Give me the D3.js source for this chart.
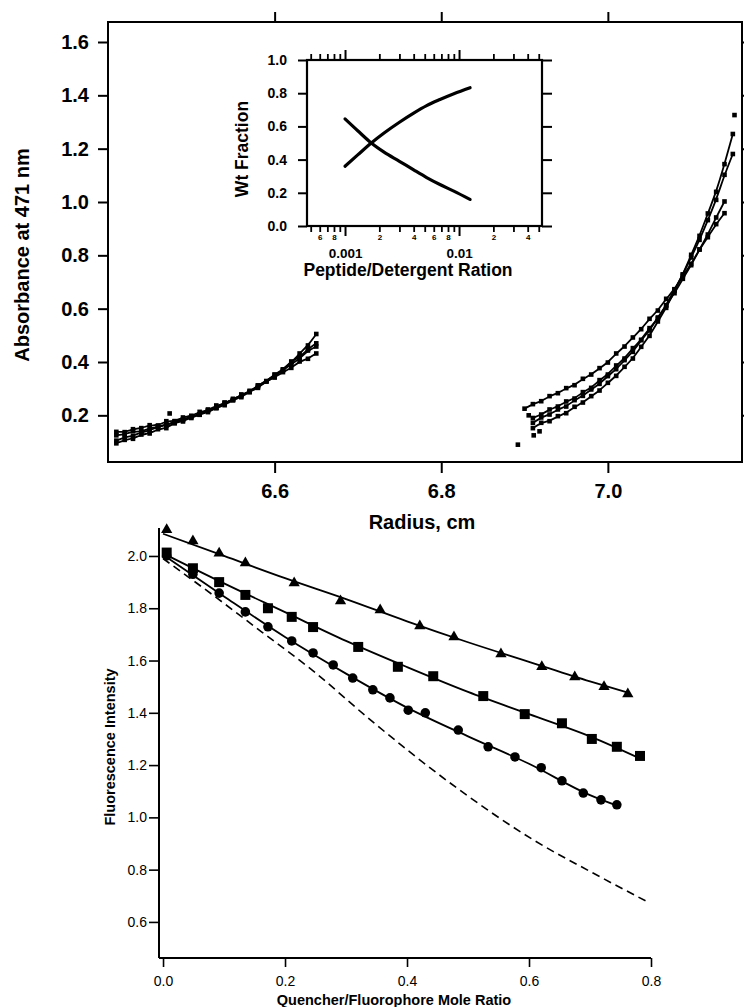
<!DOCTYPE html>
<html>
<head>
<meta charset="utf-8">
<script src="https://cdnjs.cloudflare.com/ajax/libs/d3/7.8.5/d3.min.js"></script>
<style>
body { margin: 0; background: #fff; }
svg { display: block; font-family: "Liberation Sans", Arial, Helvetica, sans-serif; }
</style>
</head>
<body>
<svg id="chart" width="744" height="1007"></svg>
<script>
// ---- top panel: absorbance vs radius ----
var absTicks = [0.2, 0.4, 0.6, 0.8, 1.0, 1.2, 1.4, 1.6];
var radTicks = [6.6, 6.8, 7.0];

var leftRadius = [6.41, 6.42, 6.43, 6.44, 6.45, 6.46, 6.47, 6.48, 6.49, 6.50, 6.51, 6.52, 6.53,
                  6.54, 6.55, 6.56, 6.57, 6.58, 6.59, 6.60, 6.61, 6.62, 6.63, 6.64, 6.65];
var leftA = [0.125, 0.128, 0.14, 0.138, 0.152, 0.155, 0.168, 0.17, 0.183, 0.19, 0.203, 0.212, 0.228,
             0.238, 0.257, 0.268, 0.288, 0.303, 0.328, 0.343, 0.372, 0.398, 0.432, 0.462, 0.505];
var leftB = [0.105, 0.118, 0.122, 0.137, 0.143, 0.157, 0.162, 0.178, 0.183, 0.197, 0.203, 0.222, 0.228,
             0.247, 0.258, 0.277, 0.288, 0.312, 0.328, 0.352, 0.368, 0.392, 0.412, 0.443, 0.458];
var leftC = [0.138, 0.137, 0.148, 0.152, 0.163, 0.162, 0.178, 0.178, 0.192, 0.198, 0.213, 0.218, 0.237,
             0.243, 0.262, 0.272, 0.292, 0.307, 0.327, 0.342, 0.362, 0.378, 0.402, 0.412, 0.432];
var leftD = [0.095, 0.108, 0.112, 0.128, 0.132, 0.148, 0.152, 0.172, 0.177, 0.193, 0.202, 0.218, 0.227,
             0.248, 0.257, 0.278, 0.287, 0.312, 0.328, 0.353, 0.372, 0.402, 0.418, 0.448, 0.47];

var rightRadius = [6.90, 6.91, 6.92, 6.93, 6.94, 6.95, 6.96, 6.97, 6.98, 6.99, 7.00, 7.01, 7.02,
                   7.03, 7.04, 7.05, 7.06, 7.07, 7.08, 7.09, 7.10, 7.11, 7.12, 7.13, 7.14, 7.15];
var rightA = [0.225, 0.242, 0.253, 0.272, 0.283, 0.302, 0.313, 0.337, 0.353, 0.377, 0.398, 0.432, 0.458,
              0.492, 0.523, 0.562, 0.593, 0.637, 0.673, 0.722, 0.768, 0.822, 0.868, 0.917, 0.958, null];
var rightB = [null, 0.172, 0.192, 0.203, 0.222, 0.233, 0.257, 0.273, 0.297, 0.318, 0.347, 0.373, 0.407,
              0.438, 0.482, 0.518, 0.567, 0.613, 0.672, 0.728, 0.792, 0.858, 0.932, 1.008, 1.102, 1.18];
var rightC = [null, 0.152, 0.172, 0.178, 0.197, 0.208, 0.232, 0.248, 0.272, 0.293, 0.322, 0.348, 0.382,
              0.413, 0.457, 0.498, 0.552, 0.603, 0.667, 0.728, 0.802, 0.873, 0.957, 1.038, 1.142, 1.255];
var rightD = [null, 0.19, 0.203, 0.222, 0.233, 0.252, 0.263, 0.287, 0.303, 0.332, 0.353, 0.387, 0.413,
              0.452, 0.483, 0.527, 0.563, 0.612, 0.658, 0.712, 0.763, 0.822, 0.878, 0.942, 1.002, null];

// stray points [radius, absorbance]
var extraPts = [[6.474, 0.207], [6.892, 0.09], [6.905, 0.2], [6.911, 0.125], [6.918, 0.14], [7.152, 1.326]];

// ---- inset: wt fraction vs peptide/detergent ratio ----
var ratio = [0.001, 0.0013, 0.0017, 0.0022, 0.003, 0.004, 0.0052, 0.0068, 0.009, 0.0125];
var fracUp = [0.36, 0.43, 0.50, 0.56, 0.625, 0.68, 0.725, 0.762, 0.797, 0.833];
var fracDown = [0.645, 0.572, 0.50, 0.445, 0.39, 0.338, 0.292, 0.25, 0.21, 0.16];
var fracTicks = [0, 0.2, 0.4, 0.6, 0.8, 1.0];
var ratioMinor = [0.0005, 0.0006, 0.0007, 0.0008, 0.0009, 0.002, 0.003, 0.004, 0.005, 0.006,
                  0.007, 0.008, 0.009, 0.02, 0.03, 0.04, 0.05];
var ratioMajor = [0.001, 0.01];
var ratioMinorLabels = {"0.0006": "6", "0.0008": "8", "0.002": "2", "0.004": "4",
                        "0.006": "6", "0.008": "8", "0.02": "2", "0.04": "4"};

// ---- bottom panel: fluorescence quenching ----
var triX = [0.006, 0.049, 0.092, 0.135, 0.215, 0.291, 0.356, 0.421, 0.477, 0.554, 0.621, 0.675, 0.723, 0.762];
var triY = [2.10, 2.057, 2.01, 1.973, 1.897, 1.828, 1.793, 1.732, 1.69, 1.625, 1.576, 1.537, 1.50, 1.472];
var sqX = [0.006, 0.049, 0.092, 0.135, 0.172, 0.211, 0.246, 0.32, 0.385, 0.443, 0.525, 0.593, 0.654, 0.703, 0.744, 0.782];
var sqY = [2.013, 1.953, 1.90, 1.851, 1.80, 1.767, 1.728, 1.652, 1.576, 1.54, 1.464, 1.395, 1.36, 1.30, 1.27, 1.235];
var ciX = [0.006, 0.049, 0.092, 0.135, 0.172, 0.211, 0.246, 0.279, 0.311, 0.344, 0.372, 0.402, 0.43,
           0.484, 0.533, 0.577, 0.62, 0.654, 0.689, 0.718, 0.744];
var ciY = [2.0, 1.93, 1.858, 1.786, 1.729, 1.675, 1.629, 1.583, 1.533, 1.488, 1.457, 1.41, 1.40,
           1.334, 1.27, 1.231, 1.19, 1.14, 1.093, 1.067, 1.048];

var triFitX = [0, 0.1, 0.2, 0.3, 0.4, 0.5, 0.6, 0.7, 0.765];
var triFitY = [2.085, 2.00, 1.915, 1.835, 1.75, 1.67, 1.595, 1.52, 1.475];
var sqFitX = [0, 0.1, 0.2, 0.3, 0.4, 0.5, 0.6, 0.7, 0.785];
var sqFitY = [2.01, 1.895, 1.785, 1.675, 1.575, 1.48, 1.395, 1.31, 1.222];
var ciFitX = [0, 0.1, 0.2, 0.3, 0.4, 0.5, 0.6, 0.7, 0.75];
var ciFitY = [2.005, 1.845, 1.69, 1.55, 1.42, 1.31, 1.205, 1.085, 1.04];
var dashX = [0, 0.082, 0.162, 0.244, 0.344, 0.482, 0.607, 0.705, 0.795];
var dashY = [1.99, 1.85, 1.709, 1.564, 1.365, 1.112, 0.914, 0.787, 0.676];

var intTicks = [0.6, 0.8, 1.0, 1.2, 1.4, 1.6, 1.8, 2.0];
var moleTicks = [0.0, 0.2, 0.4, 0.6, 0.8];

var svg = d3.select("#chart");
svg.append("rect").attr("width", 744).attr("height", 1007).attr("fill", "#fff");

function zip(xs, ys) {
	var out = [];
	xs.forEach(function(x, i) {
		if (ys[i] != null) out.push([x, ys[i]]);
	});
	return out;
}

function styleAxis(g, size, weight, width) {
	g.select(".domain").remove();
	g.selectAll("line").attr("stroke", "#000").attr("stroke-width", width);
	g.selectAll("text").attr("fill", "#000")
		.style("font-size", size + "px").style("font-weight", weight)
		.style("font-family", "'Liberation Sans', Arial, sans-serif");
}

function drawTop() {
	var xT = d3.scaleLinear().domain([6.4, 7.161]).range([108, 742]);
	var yT = d3.scaleLinear().domain([0.025, 1.675]).range([462, 22]);
	var g = svg.append("g");

	g.append("g").attr("transform", "translate(108,0)")
		.call(d3.axisLeft(yT).tickValues(absTicks).tickFormat(d3.format(".1f")).tickSize(10).tickPadding(9))
		.call(styleAxis, 20, "bold", 2);
	g.append("g").attr("transform", "translate(0,462)")
		.call(d3.axisBottom(xT).tickValues(radTicks).tickFormat(d3.format(".1f")).tickSize(11).tickPadding(11))
		.call(styleAxis, 20, "bold", 2);
	g.append("g").attr("transform", "translate(0,22)")
		.call(d3.axisTop(xT).tickValues(radTicks).tickFormat("").tickSize(10))
		.call(styleAxis, 20, "bold", 2);
	g.append("g").attr("transform", "translate(742,0)")
		.call(d3.axisRight(yT).tickValues(absTicks).tickFormat("").tickSize(10))
		.call(styleAxis, 20, "bold", 2);

	g.append("rect").attr("x", 108).attr("y", 22).attr("width", 634).attr("height", 440)
		.attr("fill", "none").attr("stroke", "#000").attr("stroke-width", 2);

	g.append("text").attr("x", 422).attr("y", 522).attr("dy", "0.35em")
		.attr("text-anchor", "middle").style("font-size", "20px").style("font-weight", "bold")
		.text("Radius, cm");
	g.append("text").attr("transform", "translate(22,255) rotate(-90)").attr("dy", "0.35em")
		.attr("text-anchor", "middle").style("font-size", "20px").style("font-weight", "bold")
		.text("Absorbance at 471 nm");

	var line = d3.line()
		.x(function(d) { return xT(d[0]); })
		.y(function(d) { return yT(d[1]); })
		.curve(d3.curveBasis);

	var series = [zip(leftRadius, leftA), zip(leftRadius, leftB), zip(leftRadius, leftC), zip(leftRadius, leftD),
	              zip(rightRadius, rightA), zip(rightRadius, rightB), zip(rightRadius, rightC), zip(rightRadius, rightD)];

	series.forEach(function(s) {
		g.append("path").datum(s).attr("d", line)
			.attr("fill", "none").attr("stroke", "#000").attr("stroke-width", 1.8);
		g.selectAll(null).data(s).enter().append("rect")
			.attr("x", function(d) { return xT(d[0]) - 2.3; })
			.attr("y", function(d) { return yT(d[1]) - 2.3; })
			.attr("width", 4.6).attr("height", 4.6).attr("fill", "#000");
	});

	g.selectAll(null).data(extraPts).enter().append("rect")
		.attr("x", function(d) { return xT(d[0]) - 2.3; })
		.attr("y", function(d) { return yT(d[1]) - 2.3; })
		.attr("width", 4.6).attr("height", 4.6).attr("fill", "#000");
}

function drawInset() {
	var xI = d3.scaleLog().domain([0.000464, 0.0534]).range([307, 542]);
	var yI = d3.scaleLinear().domain([0, 1]).range([226, 60]);
	var g = svg.append("g");

	g.append("g").attr("transform", "translate(307,0)")
		.call(d3.axisLeft(yI).tickValues(fracTicks).tickFormat(d3.format(".1f")).tickSize(9).tickPadding(11))
		.call(styleAxis, 14, "bold", 2);
	g.append("g").attr("transform", "translate(542,0)")
		.call(d3.axisRight(yI).tickValues(fracTicks).tickFormat("").tickSize(10))
		.call(styleAxis, 14, "bold", 2);

	// log ticks, bottom (labelled) and top
	g.append("g").attr("transform", "translate(0,226)")
		.call(d3.axisBottom(xI).tickValues(ratioMinor).tickSize(6).tickPadding(2)
			.tickFormat(function(d) { return ratioMinorLabels[String(d)] || ""; }))
		.call(styleAxis, 8, "bold", 1.8);
	g.append("g").attr("transform", "translate(0,226)")
		.call(d3.axisBottom(xI).tickValues(ratioMajor).tickSize(10).tickPadding(12)
			.tickFormat(function(d) { return d === 0.001 ? "0.001" : "0.01"; }))
		.call(styleAxis, 13.5, "bold", 2);
	g.append("g").attr("transform", "translate(0,60)")
		.call(d3.axisTop(xI).tickValues(ratioMinor).tickSize(6).tickFormat(""))
		.call(styleAxis, 8, "bold", 1.8);
	g.append("g").attr("transform", "translate(0,60)")
		.call(d3.axisTop(xI).tickValues(ratioMajor).tickSize(10).tickFormat(""))
		.call(styleAxis, 8, "bold", 2);

	g.append("rect").attr("x", 307).attr("y", 60).attr("width", 235).attr("height", 166)
		.attr("fill", "none").attr("stroke", "#000").attr("stroke-width", 2.2);

	g.append("text").attr("x", 408).attr("y", 270).attr("dy", "0.35em")
		.attr("text-anchor", "middle").style("font-size", "17.5px").style("font-weight", "bold")
		.text("Peptide/Detergent Ration");
	g.append("text").attr("transform", "translate(242,149) rotate(-90)").attr("dy", "0.35em")
		.attr("text-anchor", "middle").style("font-size", "17.5px").style("font-weight", "bold")
		.text("Wt Fraction");

	var line = d3.line()
		.x(function(d) { return xI(d[0]); })
		.y(function(d) { return yI(d[1]); })
		.curve(d3.curveMonotoneX);

	[zip(ratio, fracUp), zip(ratio, fracDown)].forEach(function(s) {
		g.append("path").datum(s).attr("d", line)
			.attr("fill", "none").attr("stroke", "#000").attr("stroke-width", 3.2)
			.attr("stroke-linecap", "round");
	});
}

function drawBottom() {
	var xB = d3.scaleLinear().domain([-0.0066, 0.8]).range([159, 651]);
	var yB = d3.scaleLinear().domain([0.462, 2.107]).range([958, 528]);
	var g = svg.append("g");

	g.append("g").attr("transform", "translate(159,0)")
		.call(d3.axisLeft(yB).tickValues(intTicks).tickFormat(d3.format(".1f")).tickSize(10).tickPadding(2))
		.call(styleAxis, 14, "normal", 1.6);
	g.append("g").attr("transform", "translate(0,958)")
		.call(d3.axisBottom(xB).tickValues(moleTicks).tickFormat(d3.format(".1f")).tickSize(9).tickPadding(9))
		.call(styleAxis, 14, "normal", 1.6);

	g.append("line").attr("x1", 159).attr("x2", 159).attr("y1", yB(2.107)).attr("y2", 958)
		.attr("stroke", "#000").attr("stroke-width", 2);
	g.append("line").attr("x1", 159).attr("x2", 651).attr("y1", 958).attr("y2", 958)
		.attr("stroke", "#000").attr("stroke-width", 2);

	g.append("text").attr("x", 394).attr("y", 1000).attr("dy", "0.35em")
		.attr("text-anchor", "middle").style("font-size", "14.5px").style("font-weight", "bold")
		.text("Quencher/Fluorophore Mole Ratio");
	g.append("text").attr("transform", "translate(110,747) rotate(-90)").attr("dy", "0.35em")
		.attr("text-anchor", "middle").style("font-size", "14.5px").style("font-weight", "bold")
		.text("Fluorescence Intensity");

	var line = d3.line()
		.x(function(d) { return xB(d[0]); })
		.y(function(d) { return yB(d[1]); })
		.curve(d3.curveMonotoneX);

	g.append("path").datum(zip(dashX, dashY)).attr("d", line)
		.attr("fill", "none").attr("stroke", "#000").attr("stroke-width", 1.6)
		.attr("stroke-dasharray", "8,5");

	[[triFitX, triFitY], [sqFitX, sqFitY], [ciFitX, ciFitY]].forEach(function(f) {
		g.append("path").datum(zip(f[0], f[1])).attr("d", line)
			.attr("fill", "none").attr("stroke", "#000").attr("stroke-width", 1.8);
	});

	function markers(xs, ys, type, size) {
		g.selectAll(null).data(zip(xs, ys)).enter().append("path")
			.attr("d", d3.symbol().type(type).size(size))
			.attr("transform", function(d) { return "translate(" + xB(d[0]) + "," + yB(d[1]) + ")"; })
			.attr("fill", "#000");
	}
	markers(ciX, ciY, d3.symbolCircle, 72);
	markers(sqX, sqY, d3.symbolSquare, 100);
	markers(triX, triY, d3.symbolTriangle, 55);
}

drawTop();
drawInset();
drawBottom();
</script>
</body>
</html>
